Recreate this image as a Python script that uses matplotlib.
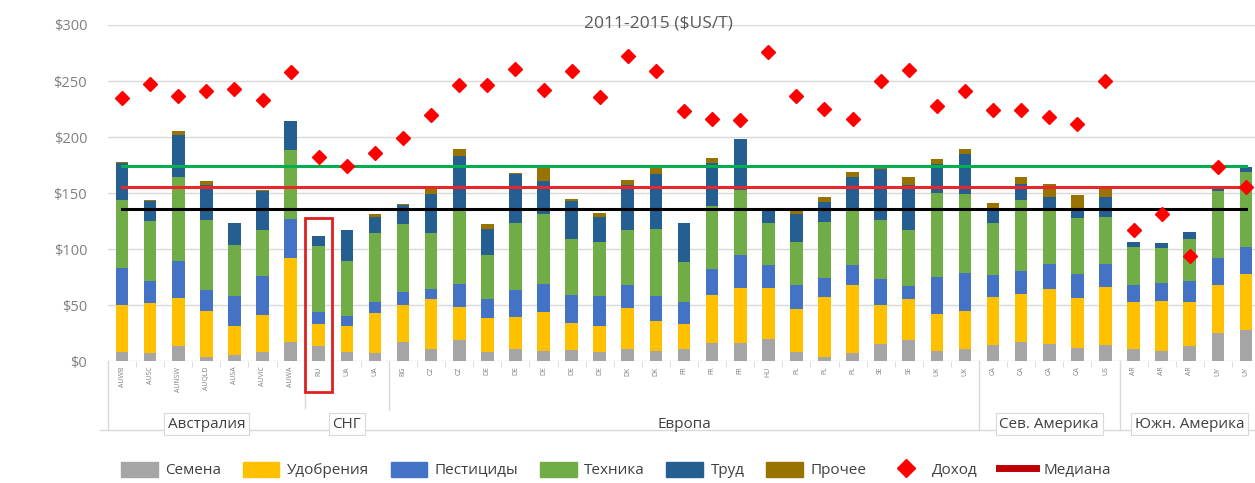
import numpy as np
import matplotlib
matplotlib.use("Agg")
from matplotlib import pyplot as plt
from matplotlib import transforms as mtransforms
from matplotlib.patches import Rectangle, Patch
from matplotlib.lines import Line2D

plt.rcParams['font.family'] = ['Open Sans', 'DejaVu Sans']

# categories (farm regions)
cats = ['AUWB', 'AUSC', 'AUNSW', 'AUQLD', 'AUSA', 'AUVIC', 'AUWA',
        'RU', 'UA', 'UA',
        'BG', 'CZ', 'CZ', 'DE', 'DE', 'DE', 'DE', 'DE', 'DK', 'DK', 'FR', 'FR', 'FR',
        'HU', 'PL', 'PL', 'PL', 'SE', 'SE', 'UK', 'UK',
        'CA', 'CA', 'CA', 'CA', 'US',
        'AR', 'AR', 'AR', 'UY', 'UY']

groups = ['Австралия', 'СНГ', 'Европа', 'Сев. Америка', 'Южн. Америка']
group_sizes = [7, 3, 21, 5, 5]

# cost components, $US/T
seeds = [8, 7, 13, 4, 5, 8, 17,
         13, 8, 7,
         17, 11, 19, 8, 11, 9, 10, 8, 11, 9, 11, 16, 16, 20, 8, 4, 7, 15, 19, 9, 11,
         14, 17, 15, 12, 14,
         11, 9, 13, 25, 28]
fert = [42, 45, 43, 41, 26, 33, 75,
        20, 23, 36,
        33, 44, 29, 30, 28, 35, 24, 23, 36, 27, 22, 43, 49, 45, 38, 53, 61, 35, 36, 33, 34,
        43, 43, 49, 44, 52,
        42, 45, 40, 43, 50]
pest = [33, 19, 33, 18, 27, 35, 35,
        11, 9, 10,
        12, 9, 21, 17, 24, 25, 25, 27, 21, 22, 20, 23, 30, 21, 22, 17, 18, 23, 12, 33, 34,
        20, 20, 23, 22, 21,
        15, 16, 18, 24, 24]
mach = [61, 54, 75, 63, 46, 41, 61,
        59, 49, 61,
        60, 50, 65, 40, 60, 62, 50, 48, 49, 60, 35, 56, 58, 37, 38, 50, 48, 53, 50, 75, 70,
        46, 64, 49, 50, 42,
        34, 31, 38, 60, 67]
labor = [33, 18, 38, 31, 19, 35, 26,
         9, 28, 15,
         17, 35, 49, 23, 44, 30, 34, 23, 40, 49, 35, 39, 45, 12, 25, 18, 30, 45, 40, 26, 36,
         13, 14, 10, 8, 17,
         4, 4, 6, 4, 4]
other = [1, 1, 3, 4, 0, 1, 0,
         0, 0, 2,
         1, 6, 6, 4, 1, 11, 2, 3, 5, 6, 0, 4, 0, 0, 4, 4, 5, 2, 7, 4, 4,
         5, 6, 12, 12, 10,
         0, 0, 0, 0, 0]

income = [235, 247, 237, 241, 243, 233, 258,
          182, 174, 186,
          199, 220, 246, 246, 261, 242, 259, 236, 272, 259, 223, 216, 215, 276, 237, 225, 216,
          250, 260, 228, 241,
          224, 224, 218, 212, 250,
          117, 131, 94, 173, 155]

green_level = 174
median_level = 155
black_level = 135.5

series_names = ['Семена', 'Удобрения', 'Пестициды', 'Техника', 'Труд', 'Прочее']
colors = ['#A5A5A5', '#FFC000', '#4472C4', '#70AD47', '#255E91', '#997300']

fig = plt.figure(figsize=(12.55, 4.83), dpi=100)
ax = fig.add_axes([108 / 1255, 1 - 361 / 483, 1152 / 1255, 336 / 483])

x = np.arange(len(cats))
bottom = np.zeros(len(cats))
for vals, col in zip([seeds, fert, pest, mach, labor, other], colors):
    ax.bar(x, vals, width=0.45, bottom=bottom, color=col, zorder=2)
    bottom += np.array(vals)

ax.plot([0, len(cats) - 1], [green_level] * 2, color='#00B050', lw=2.2, zorder=3)
ax.plot([0, len(cats) - 1], [median_level] * 2, color='#E8262B', lw=2.2, zorder=3)
ax.plot([0, len(cats) - 1], [black_level] * 2, color='black', lw=2.2, zorder=3)
ax.plot(x, income, linestyle='none', marker='D', markersize=7.5,
        color='#FF0000', zorder=4)

ax.set_xlim(-0.5, len(cats) - 0.5)
ax.set_ylim(0, 300)
ax.set_yticks(range(0, 301, 50))
ax.set_yticklabels(['$%d' % v for v in range(0, 301, 50)])
ax.grid(axis='y', color='#D9D9D9', lw=1, zorder=0)
for s in ax.spines.values():
    s.set_visible(False)
ax.tick_params(axis='y', length=0, pad=15, labelsize=10.5, labelcolor='#808080')
ax.set_xticks(x)
ax.set_xticklabels(cats, rotation=90, fontsize=5, color='#808080')
ax.tick_params(axis='x', length=0, pad=4)
ax.set_xticks(np.arange(-0.5, len(cats), 1), minor=True)
ax.tick_params(axis='x', which='minor', length=4, color='#D9D9D9')

trans = mtransforms.blended_transform_factory(ax.transData, ax.transAxes)
# group separators and labels
edges = np.concatenate([[0], np.cumsum(group_sizes)]) - 0.5
depths = [-0.205, -0.14, -0.146, -0.205, -0.205]
for e, d in zip(edges[:-1], depths):
    ax.plot([e, e], [0, d], transform=trans, color='#D9D9D9', lw=1, clip_on=False)
ax.plot([-0.8, len(cats)], [-0.205, -0.205], transform=trans, color='#D9D9D9',
        lw=1, clip_on=False)
for i, g in enumerate(groups):
    cx = (edges[i] + edges[i + 1]) / 2
    box = None
    if g != 'Европа':
        box = dict(boxstyle='square,pad=0.25', fc='white', ec='#D9D9D9', lw=0.8)
    ax.text(cx, -0.188, g, transform=trans, ha='center', va='center',
            fontsize=11, color='#404040', bbox=box, clip_on=False)

# highlight RU
ax.add_patch(Rectangle((6.52, -27.6), 0.96, 155.3, fill=False, ec='#E02020',
                       lw=2, clip_on=False, zorder=5))

fig.text(658 / 1255, 1 - 24 / 483, '2011-2015 ($US/T)', ha='center', va='center',
         fontsize=12.5, color='#595959')

handles = [Patch(color=c) for c in colors]
handles.append(Line2D([], [], linestyle='none', marker='D', markersize=9, color='#FF0000'))
handles.append(Line2D([], [], color='#C00000', lw=5))
labels = series_names + ['Доход', 'Медиана']
fig.legend(handles, labels, loc='center', bbox_to_anchor=(616 / 1255, 1 - 470 / 483),
           ncol=8, frameon=False, fontsize=11, handlelength=2.4, handleheight=1.2,
           columnspacing=1.4, handletextpad=0.5, labelcolor='#404040')

fig.savefig('out.png', dpi=100)
